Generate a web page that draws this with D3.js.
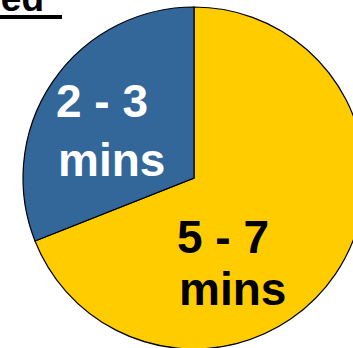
<!DOCTYPE html>
<html><head><meta charset="utf-8">
<script src="https://cdn.jsdelivr.net/npm/d3@7"></script>
<style>html,body{margin:0;padding:0;background:#fff;overflow:hidden}</style>
</head><body>
<svg id="c" width="353" height="348"></svg>
<script>
const categories = ["5 - 7 mins", "2 - 3 mins"];
const values = [69, 31];
const labelLines = [["5 - 7", "mins"], ["2 - 3", "mins"]];
const colors = ["#FFCC00", "#336699"];
const textColors = ["#000000", "#FFFFFF"];
const titleText = "ed";

const svg = d3.select("#c");
const cx = 194, cy = 178, r = 171;
const g = svg.append("g").attr("transform", `translate(${cx},${cy})`);

const pie = d3.pie().sort(null).value(d => d).startAngle(0).endAngle(2 * Math.PI);
const arcs = pie(values);
const arc = d3.arc().innerRadius(0).outerRadius(r);

g.selectAll("path").data(arcs).enter().append("path")
  .attr("d", arc)
  .attr("fill", (d, i) => colors[i])
  .attr("stroke", "#000")
  .attr("stroke-width", 1.2);

// label positions (offsets relative to centre)
const labelPos = [
  {x: [-17, -15], y: [75, 127]},
  {x: [-138, -136], y: [-61, -2]}
];
arcs.forEach((d, i) => {
  const t = g.append("text")
    .attr("fill", textColors[i])
    .attr("font-family", "Liberation Sans, Arial, sans-serif")
    .attr("font-weight", "bold")
    .attr("font-size", 46)
    .attr("text-anchor", "start");
  labelLines[i].forEach((ln, j) => {
    t.append("tspan").attr("x", labelPos[i].x[j]).attr("y", labelPos[i].y[j]).text(ln);
  });
});

// partial title
svg.append("text")
  .attr("x", 44).attr("y", 11)
  .attr("text-anchor", "end")
  .attr("font-family", "Liberation Sans, Arial, sans-serif")
  .attr("font-weight", "bold")
  .attr("font-size", 37)
  .attr("fill", "#000")
  .text(titleText);
svg.append("rect").attr("x", 0).attr("y", 15).attr("width", 62).attr("height", 4).attr("fill", "#000");
</script>
</body></html>
